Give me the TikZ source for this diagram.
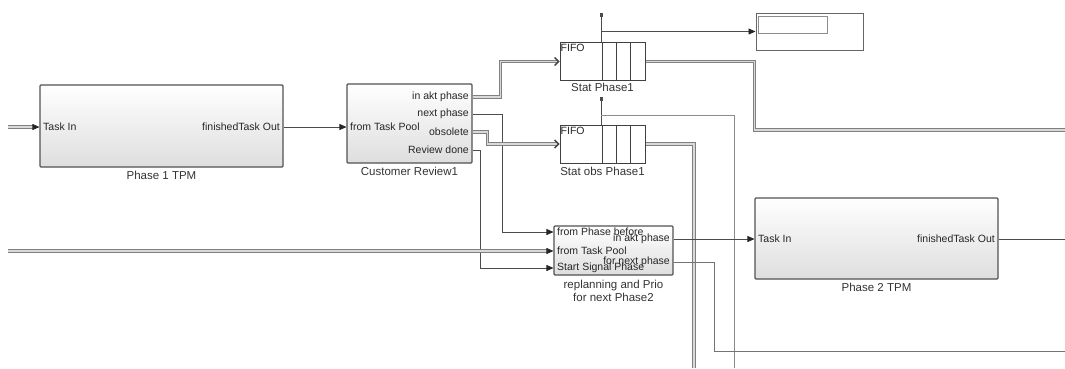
\documentclass[tikz,border=0pt]{standalone}
\usepackage{fontspec}
\setmainfont{Liberation Sans}
\usetikzlibrary{arrows.meta, positioning, calc}

\tikzset{
  blk/.style={draw=black!68, line width=1.1pt, rounded corners=1pt,
    top color=white, bottom color=black!13, inner sep=0pt},
  fifo/.style={draw=black!75, line width=1pt, fill=white, inner sep=0pt,
    minimum width=85pt, minimum height=38pt},
  port/.style={font=\fontsize{10.5}{12}\selectfont, inner sep=1pt, text=black!85},
  blkname/.style={font=\fontsize{11.5}{13}\selectfont, text=black!80, align=center, inner sep=0pt},
  sig/.style={draw=black!70, line width=0.7pt},
  ent/.style={draw=black!50, double=black!15, double distance=1.4pt, line width=0.9pt},
  sigarr/.style={-{Triangle[length=7pt,width=6pt,color=black!85]}},
  entarr/.style={-{Straight Barb[length=4pt,width=8pt,line width=1.3pt,color=black!75]}},
  cell/.style={draw=black!75, line width=0.9pt},
}

\begin{document}
\begin{tikzpicture}[x=1pt, y=-1pt]
  \useasboundingbox (0,0) rectangle (1065,368);
  % Phase 1
  \node[blk, minimum width=243pt, minimum height=82pt] (phaseA) at (161.5,126) {};
  \node[blkname, below=3pt of phaseA] (phaseAname) {Phase 1 TPM};
  \node[port, anchor=west] (pAin) at (42,127) {Task In};
  \node[port, anchor=east] (pAout) at (281,127) {finishedTask Out};
  % customer review
  \node[blk, minimum width=125pt, minimum height=79pt] (review) at (409.5,123.5) {};
  \node[blkname, below=3pt of review] (reviewname) {Customer Review1};
  \node[port, anchor=west] (rvIn) at (349,127) {from Task Pool};
  \node[port, anchor=east] (rvAkt) at (470,97) {in akt phase};
  \node[port, anchor=east] (rvNext) at (470,114) {next phase};
  \node[port, anchor=east] (rvObs) at (470,132) {obsolete};
  \node[port, anchor=east] (rvDone) at (470,150) {Review done};
  % queues
  \node[fifo] (statA) at (602.5,61.5) {};
  \node[blkname, below=2pt of statA] (statAname) {Stat Phase1};
  \node[port, anchor=north west] (fifoA) at ($(statA.north west)+(0,1)$) {FIFO};
  \node[fifo] (statB) at (602.5,144) {};
  \node[blkname, below=3pt of statB] (statBname) {Stat obs Phase1};
  \node[port, anchor=north west] (fifoB) at ($(statB.north west)+(0,1)$) {FIFO};
  \foreach \cx in {602,616,630}
    \draw[cell] (\cx,42.5) -- (\cx,80.5) (\cx,125) -- (\cx,163);
  % display
  \node[draw=black!60, line width=1pt, fill=white, minimum width=107pt,
        minimum height=37pt, inner sep=0pt] (disp) at (809.5,31.5) {};
  \node[draw=black!45, line width=0.8pt, minimum width=69pt, minimum height=17pt,
        inner sep=0pt, anchor=north west] (dispval) at ($(disp.north west)+(2,3)$) {};
  % replanning
  \node[blk, minimum width=119pt, minimum height=49pt] (replan) at (613.5,250.5) {};
  \node[blkname, below=4pt of replan] (replanname) {replanning and Prio\\for next Phase2};
  \node[port, anchor=west] (rpFrom) at (556,232) {from Phase before};
  \node[port, anchor=west] (rpPool) at (556,251) {from Task Pool};
  \node[port, anchor=west] (rpStart) at (556,268) {Start Signal Phase};
  \node[port, anchor=east] (rpAkt) at (671,239) {in akt phase};
  \node[port, anchor=east] (rpNext) at (671,262) {for next phase};
  % Phase 2
  \node[blk, minimum width=243pt, minimum height=81pt] (phaseB) at (876.5,238.5) {};
  \node[blkname, below=3pt of phaseB] (phaseBname) {Phase 2 TPM};
  \node[port, anchor=west] (pBin) at (757,239) {Task In};
  \node[port, anchor=east] (pBout) at (996,239) {finishedTask Out};
  % free ends
  \coordinate (tasksrc) at (8,127);
  \coordinate (poolsrc) at (8,251);
  \coordinate (tapA) at (601,13);
  \coordinate (tapB) at (601,97);
  \coordinate (brB) at (601,115);
  \coordinate (outA) at (1065,130);
  \coordinate (outObs) at (694,368);
  \coordinate (outTap) at (734,368);
  \coordinate (outNext) at (1065,351);
  \coordinate (outP2) at (1065,239);
  % connectors
  \draw[ent, sigarr] (tasksrc) -- (phaseA.west |- pAin);
  \draw[sig, sigarr] (phaseA.east |- pAout) -- (review.west |- pAout);
  \draw[ent, entarr] (review.east |- rvAkt) -- ++(28,0) |- (statA.west);
  \draw[sig, sigarr] (review.east |- rvNext) -- ++(30,0) |- (replan.west |- rpFrom);
  \draw[ent, entarr] (review.east |- rvObs) -- ++(15,0) |- (statB.west);
  \draw[sig, sigarr] (review.east |- rvDone) -- ++(8,0) |- (replan.west |- rpStart);
  \draw[ent, sigarr] (poolsrc) -- (replan.west |- rpPool);
  % taps on the queues
  \fill[black!70] ($(tapA)+(-1.5,0)$) rectangle ++(3,4);
  \draw[sig] (tapA) -- (tapA |- statA.north);
  \draw[sig, sigarr] (tapA |- disp.west) -- (disp.west);
  \fill[black!70] ($(tapB)+(-1.5,0)$) rectangle ++(3,4);
  \draw[sig] (tapB) -- (tapB |- statB.north);
  \draw[sig, draw=black!45] (brB) -| (outTap);
  % queue outputs
  \draw[ent] (statA.east) -- ++(109,0) |- (outA);
  \draw[ent] (statB.east) -| (outObs);
  % replanning and phase 2 outputs
  \draw[sig, sigarr] (replan.east |- rpAkt) -- (phaseB.west |- rpAkt);
  \draw[sig, draw=black!55] (replan.east |- rpNext) -- ++(41,0) |- (outNext);
  \draw[sig] (phaseB.east |- pBout) -- (outP2);
\end{tikzpicture}
\end{document}
